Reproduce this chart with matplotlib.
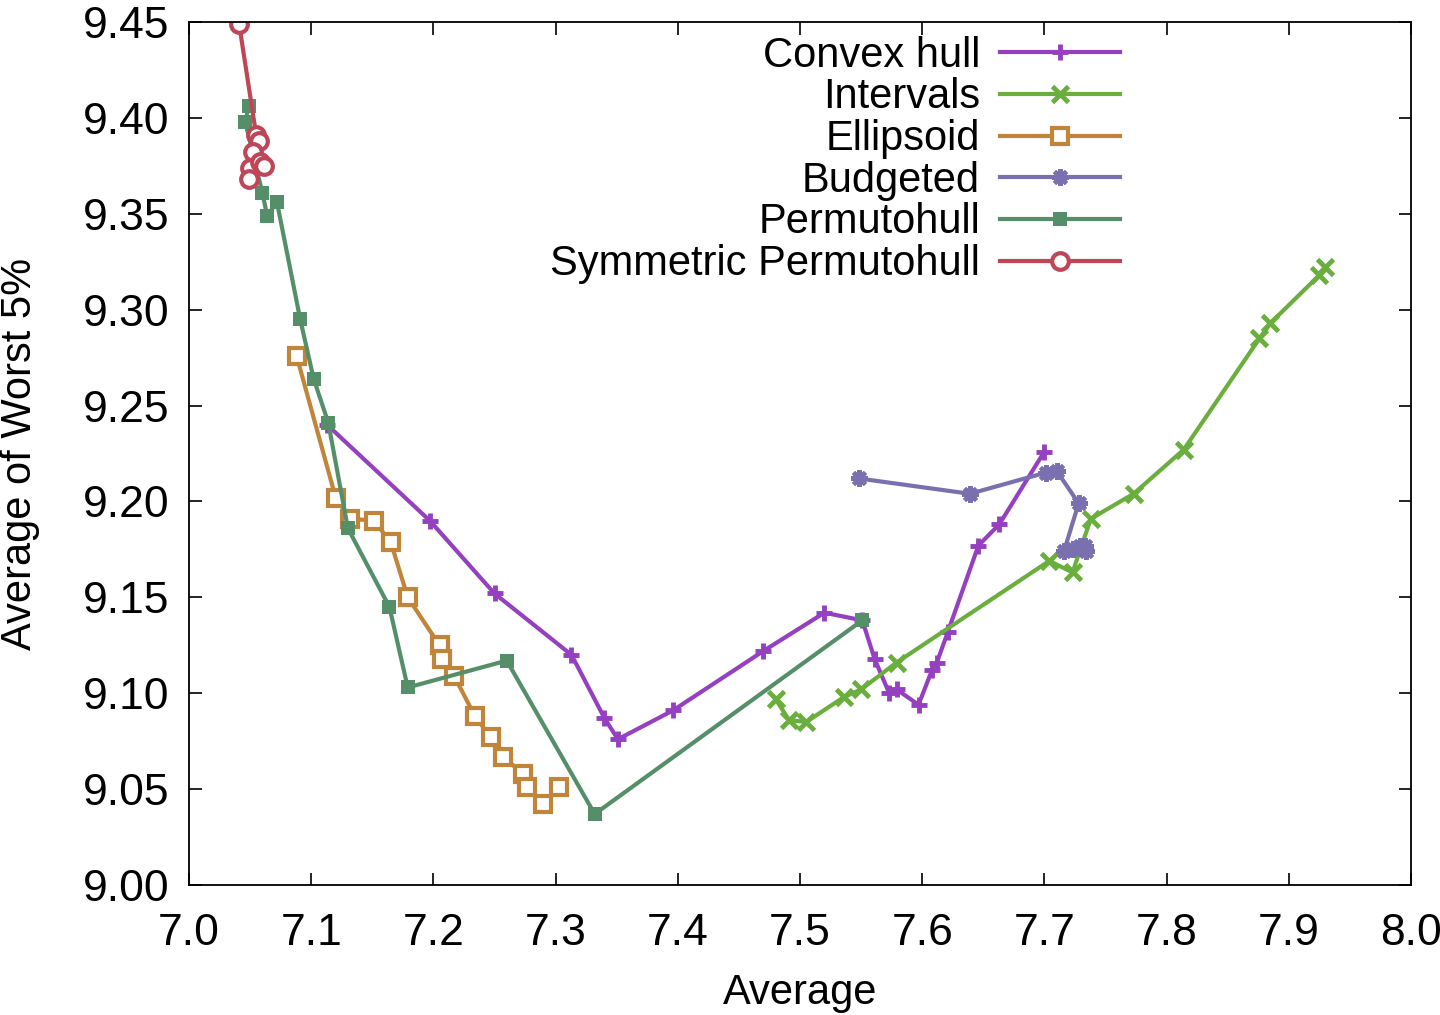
import matplotlib
matplotlib.use("Agg")
import matplotlib.pyplot as plt

plt.rcParams['font.family'] = ['Liberation Sans', 'DejaVu Sans']

# ---- data ----
convex_x = [7.113, 7.197, 7.250, 7.313, 7.340, 7.351, 7.396, 7.470, 7.520, 7.551,
            7.561, 7.573, 7.579, 7.597, 7.608, 7.612, 7.621, 7.646, 7.663, 7.700]
convex_y = [9.240, 9.190, 9.152, 9.120, 9.087, 9.076, 9.091, 9.122, 9.142, 9.138,
            9.118, 9.100, 9.102, 9.094, 9.112, 9.116, 9.132, 9.177, 9.188, 9.226]

intervals_x = [7.480, 7.491, 7.505, 7.536, 7.550, 7.579, 7.704, 7.723, 7.738, 7.773,
               7.814, 7.876, 7.885, 7.925, 7.930]
intervals_y = [9.097, 9.086, 9.085, 9.098, 9.102, 9.116, 9.169, 9.163, 9.191, 9.204,
               9.227, 9.285, 9.293, 9.318, 9.322]

ellipsoid_x = [7.088, 7.120, 7.132, 7.151, 7.165, 7.179, 7.205, 7.207, 7.217, 7.234,
               7.247, 7.257, 7.273, 7.277, 7.290, 7.303]
ellipsoid_y = [9.276, 9.202, 9.191, 9.190, 9.179, 9.150, 9.125, 9.118, 9.109, 9.088,
               9.077, 9.067, 9.058, 9.051, 9.042, 9.051]

budgeted_x = [7.548, 7.639, 7.701, 7.710, 7.728, 7.716, 7.723, 7.729, 7.733, 7.734]
budgeted_y = [9.212, 9.204, 9.215, 9.216, 9.199, 9.174, 9.175, 9.177, 9.177, 9.174]

permuto_x = [7.049, 7.046, 7.060, 7.064, 7.072, 7.091, 7.102, 7.114, 7.130, 7.164,
             7.179, 7.260, 7.332, 7.551]
permuto_y = [9.406, 9.398, 9.361, 9.349, 9.356, 9.295, 9.264, 9.241, 9.186, 9.145,
             9.103, 9.117, 9.037, 9.138]

sym_x = [7.041, 7.055, 7.057, 7.052, 7.050, 7.049, 7.058, 7.061]
sym_y = [9.449, 9.391, 9.388, 9.382, 9.374, 9.368, 9.377, 9.375]

labels = ["Convex hull", "Intervals", "Ellipsoid", "Budgeted", "Permutohull",
          "Symmetric Permutohull"]
colors = ["#9440c0", "#6aaf3d", "#c1843b", "#7a70b0", "#558f6a", "#bf4657"]

xticks = [7.0, 7.1, 7.2, 7.3, 7.4, 7.5, 7.6, 7.7, 7.8, 7.9, 8.0]
yticks = [9.00, 9.05, 9.10, 9.15, 9.20, 9.25, 9.30, 9.35, 9.40, 9.45]

FS = 30
TFS = 32

fig = plt.figure(figsize=(14.4, 10.15), dpi=100)
ax = fig.add_axes([189/1440, 1-885/1015, (1411-189)/1440, (885-22)/1015])

lw = 3.0
ax.plot(convex_x, convex_y, color=colors[0], lw=lw, marker='+', ms=12, mew=3.5,
        label=labels[0])
ax.plot(intervals_x, intervals_y, color=colors[1], lw=lw, marker='x', ms=11, mew=3.5,
        label=labels[1])
ax.plot(ellipsoid_x, ellipsoid_y, color=colors[2], lw=lw, marker='s', ms=12, mew=3,
        mfc='white', label=labels[2])
ax.plot(budgeted_x, budgeted_y, color=colors[3], lw=lw, marker=(8, 2, 0), ms=12, mew=3,
        label=labels[3])
ax.plot(permuto_x, permuto_y, color=colors[4], lw=lw, marker='s', ms=10, mew=0,
        label=labels[4])
ax.plot(sym_x, sym_y, color=colors[5], lw=lw, marker='o', ms=12, mew=3,
        mfc='white', label=labels[5])

ax.set_xlim(7.0, 8.0)
ax.set_ylim(9.0, 9.45)
ax.set_xticks(xticks)
ax.set_xticklabels([f"{v:.1f}" for v in xticks])
ax.set_yticks(yticks)
ax.set_yticklabels([f"{v:.2f}" for v in yticks])
ax.tick_params(direction='in', length=9, width=1.2, labelsize=TFS, top=True, right=True)
ax.tick_params(axis='x', pad=20)
ax.tick_params(axis='y', pad=14)
for s in ax.spines.values():
    s.set_linewidth(1.3)

ax.set_xlabel("Average", fontsize=FS, labelpad=14)
ax.set_ylabel("Average of Worst 5%", fontsize=FS, labelpad=31)

leg = ax.legend(loc='upper right', bbox_to_anchor=(0.7619, 0.984), frameon=False,
                markerfirst=False, fontsize=FS, handlelength=2.88, handletextpad=0.48,
                labelspacing=0.04, borderpad=0, borderaxespad=0)

fig.savefig("out.png", dpi=100)
